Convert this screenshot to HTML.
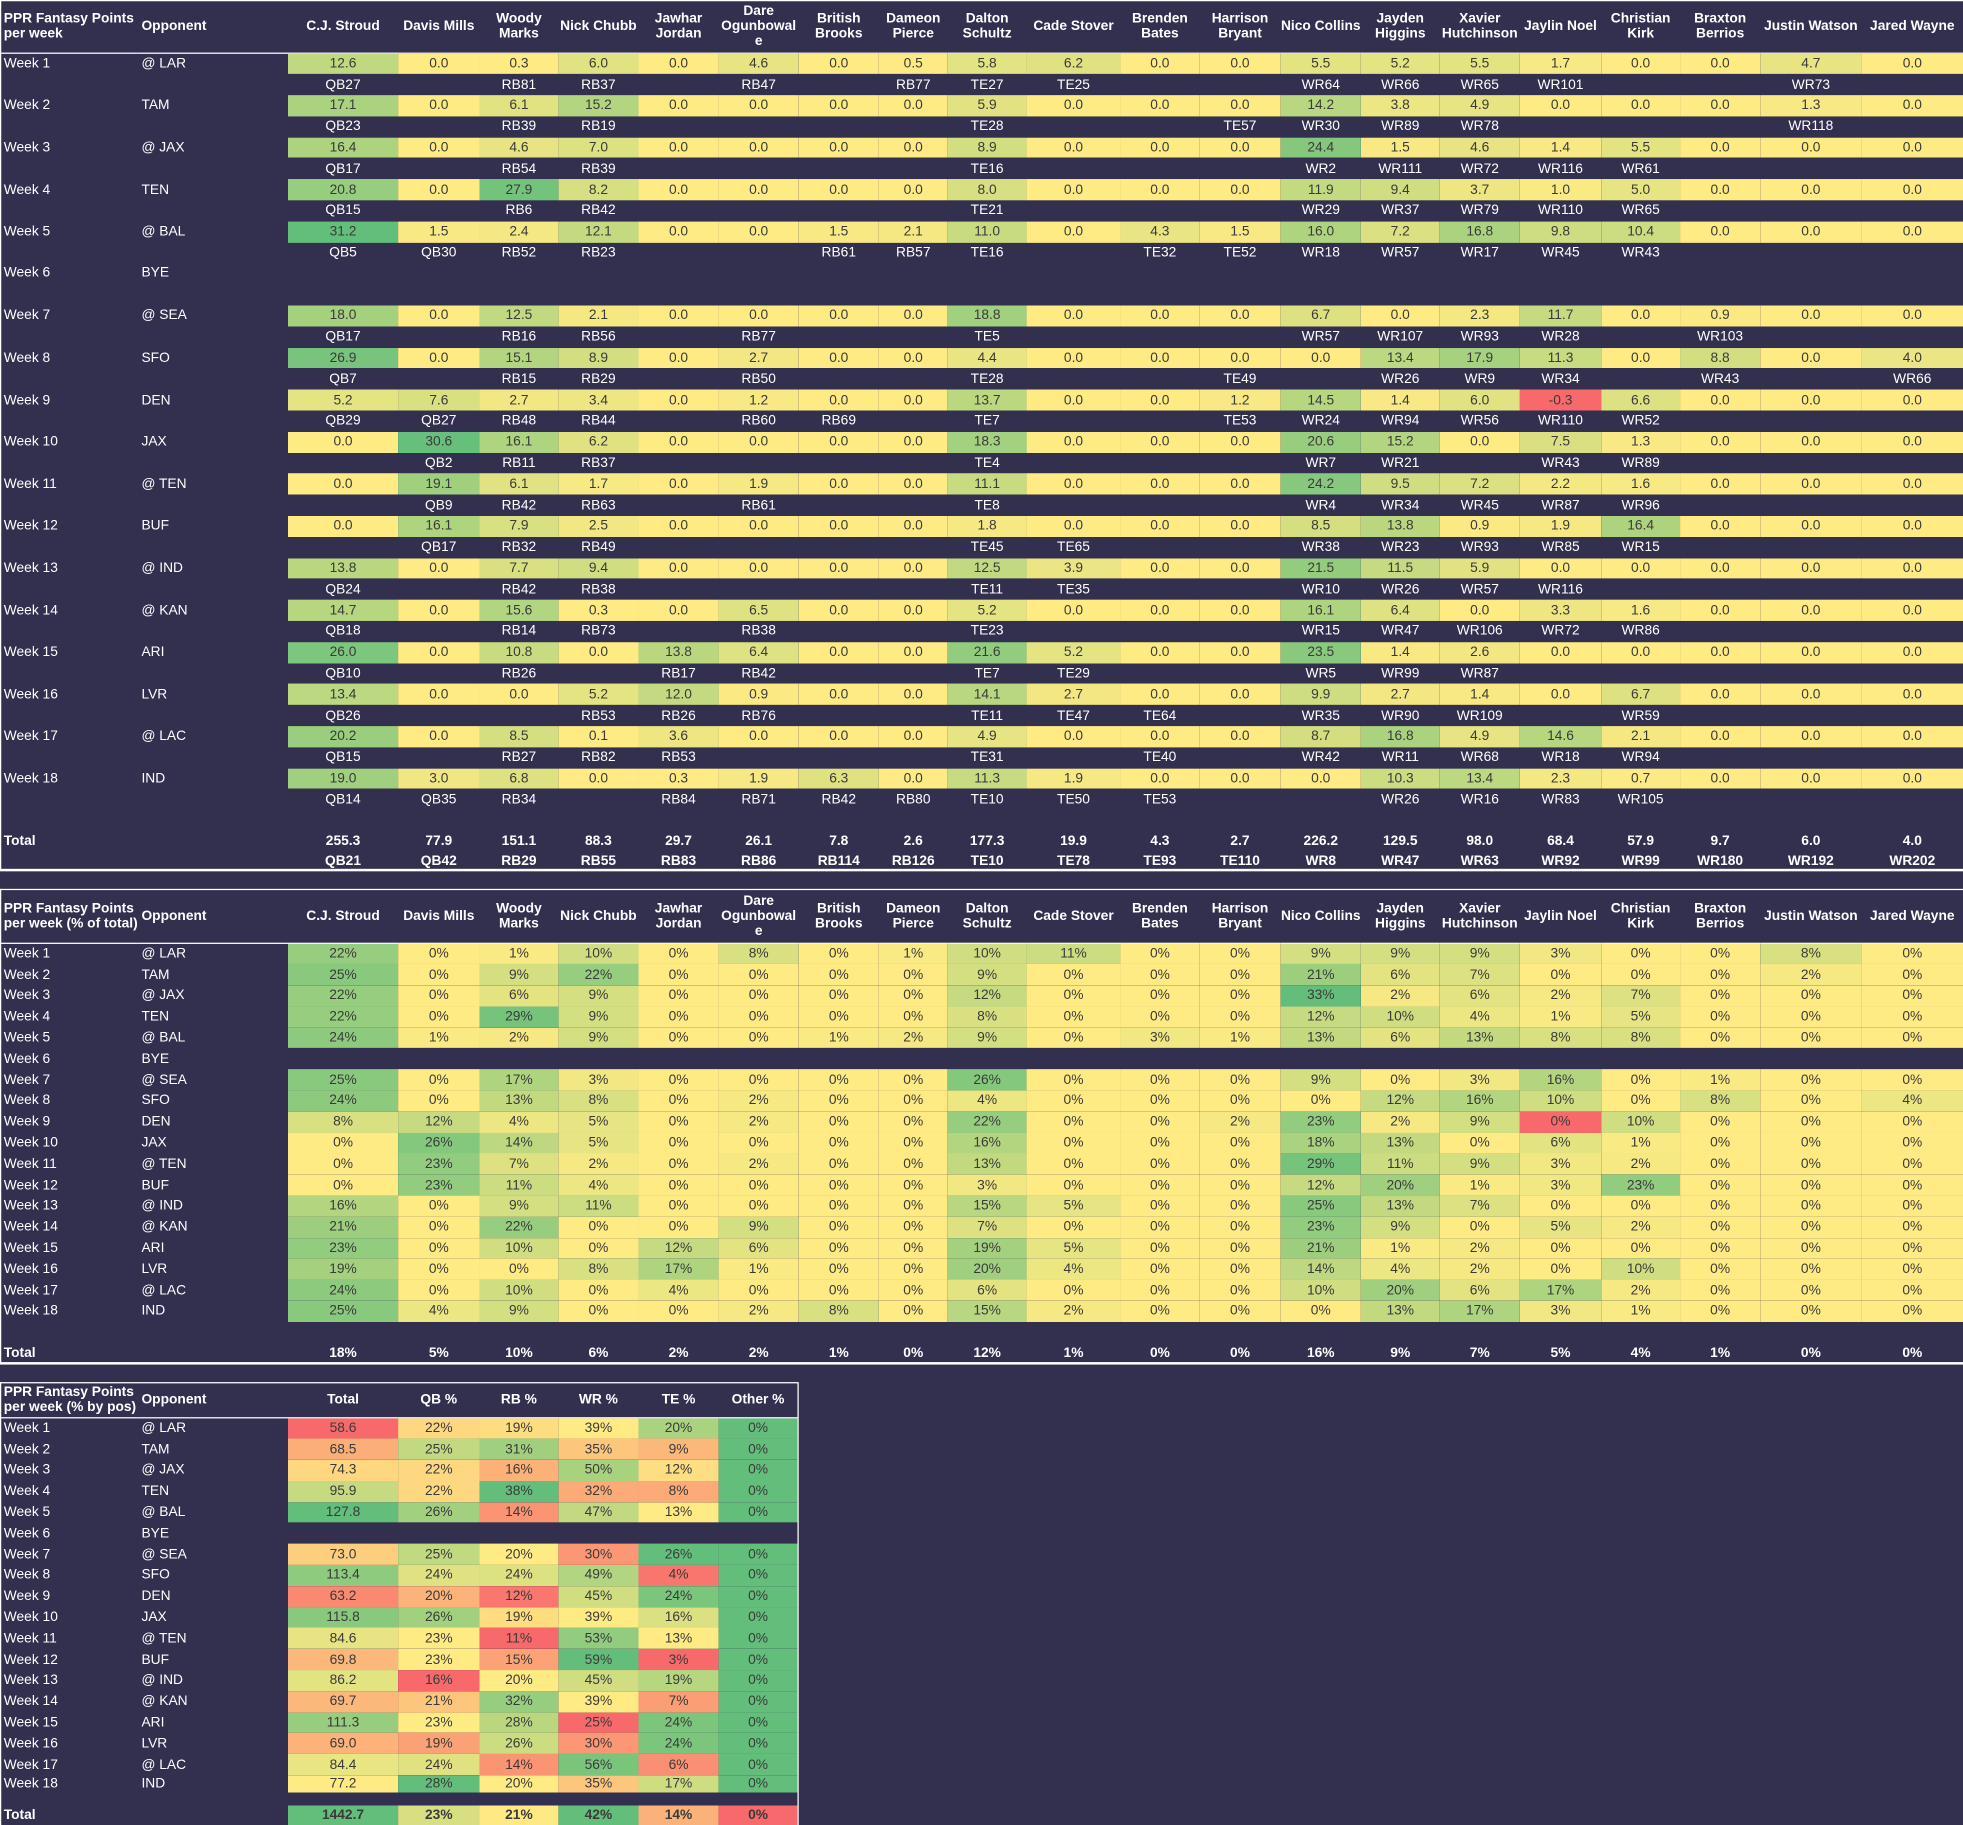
<!DOCTYPE html>
<html><head><meta charset="utf-8">
<style>
html,body{margin:0;padding:0;background:#33304f;width:1963px;height:1825px;overflow:hidden}
#w{position:absolute;left:0;top:0;width:1568px;height:1458px;transform:scale(1.25191);transform-origin:0 0;font-family:"Liberation Sans",Arial,sans-serif;font-size:11px;color:#fff}
table{position:absolute;left:0;border-collapse:collapse;table-layout:fixed}
td{padding:0;text-align:center;white-space:nowrap;overflow:hidden}
td:nth-child(1),td:nth-child(2){text-align:left;padding-left:3px}
tr.h td{font-weight:bold;line-height:12px;border-bottom:1.5px solid #fff;white-space:normal;overflow:visible;vertical-align:middle}
#t1 tr.v td,#t1 tr.r td{height:16.8px}
#t1 tr.v td{color:#3a3a3a}
#t1 tr.v td:nth-child(1),#t1 tr.v td:nth-child(2){color:#fff}
#t2 tr.v td{height:16.8px;color:#3a3a3a}
#t2 tr.v td:nth-child(1),#t2 tr.v td:nth-child(2){color:#fff}
#t3 tr.v td{height:16.8px;color:#3a3a3a}
#t3 tr.v td:nth-child(1),#t3 tr.v td:nth-child(2){color:#fff}
tr.t td{font-weight:bold;color:#fff}
.gap td{height:17px}
</style></head><body><div id="w">
<div style="position:absolute;left:0;top:0;width:1px;height:695px;background:#fff"></div>
<div style="position:absolute;left:0;top:0;width:1568px;height:1px;background:#fff"></div>
<div style="position:absolute;left:0;top:694px;width:1568px;height:1.5px;background:#fff"></div>
<div style="position:absolute;left:0;top:710px;width:1568px;height:1px;background:#fff"></div>
<div style="position:absolute;left:0;top:710px;width:1px;height:379px;background:#fff"></div>
<div style="position:absolute;left:0;top:1088px;width:1568px;height:1.5px;background:#fff"></div>
<div style="position:absolute;left:0;top:1104px;width:637px;height:1px;background:#fff"></div>
<div style="position:absolute;left:0;top:1104px;width:1px;height:354px;background:#fff"></div>
<div style="position:absolute;left:637px;top:1104px;width:1px;height:354px;background:#fff"></div>

<table id="t1" style="top:1px;width:1568px">
<colgroup><col style="width:110px"><col style="width:120px"><col style="width:88px"><col style="width:65px"><col style="width:63px"><col style="width:64px"><col style="width:64px"><col style="width:64px"><col style="width:64px"><col style="width:55px"><col style="width:63px"><col style="width:75px"><col style="width:63px"><col style="width:65px"><col style="width:64px"><col style="width:63px"><col style="width:64px"><col style="width:65px"><col style="width:63px"><col style="width:64px"><col style="width:81px"><col style="width:81px"></colgroup>
<tr class="h" style="height:41px"><td>PPR Fantasy Points per week</td><td>Opponent</td><td>C.J. Stroud</td><td>Davis Mills</td><td>Woody<br>Marks</td><td>Nick Chubb</td><td>Jawhar<br>Jordan</td><td>Dare<br>Ogunbowal<br>e</td><td>British<br>Brooks</td><td>Dameon<br>Pierce</td><td>Dalton<br>Schultz</td><td>Cade Stover</td><td>Brenden<br>Bates</td><td>Harrison<br>Bryant</td><td>Nico Collins</td><td>Jayden<br>Higgins</td><td>Xavier<br>Hutchinson</td><td>Jaylin Noel</td><td>Christian<br>Kirk</td><td>Braxton<br>Berrios</td><td>Justin Watson</td><td>Jared Wayne</td></tr>
<tr class="v"><td>Week 1</td><td>@ LAR</td><td>12.6</td><td>0.0</td><td>0.3</td><td>6.0</td><td>0.0</td><td>4.6</td><td>0.0</td><td>0.5</td><td>5.8</td><td>6.2</td><td>0.0</td><td>0.0</td><td>5.5</td><td>5.2</td><td>5.5</td><td>1.7</td><td>0.0</td><td>0.0</td><td>4.7</td><td>0.0</td></tr>
<tr class="r"><td></td><td></td><td>QB27</td><td></td><td>RB81</td><td>RB37</td><td></td><td>RB47</td><td></td><td>RB77</td><td>TE27</td><td>TE25</td><td></td><td></td><td>WR64</td><td>WR66</td><td>WR65</td><td>WR101</td><td></td><td></td><td>WR73</td><td></td></tr>
<tr class="v"><td>Week 2</td><td>TAM</td><td>17.1</td><td>0.0</td><td>6.1</td><td>15.2</td><td>0.0</td><td>0.0</td><td>0.0</td><td>0.0</td><td>5.9</td><td>0.0</td><td>0.0</td><td>0.0</td><td>14.2</td><td>3.8</td><td>4.9</td><td>0.0</td><td>0.0</td><td>0.0</td><td>1.3</td><td>0.0</td></tr>
<tr class="r"><td></td><td></td><td>QB23</td><td></td><td>RB39</td><td>RB19</td><td></td><td></td><td></td><td></td><td>TE28</td><td></td><td></td><td>TE57</td><td>WR30</td><td>WR89</td><td>WR78</td><td></td><td></td><td></td><td>WR118</td><td></td></tr>
<tr class="v"><td>Week 3</td><td>@ JAX</td><td>16.4</td><td>0.0</td><td>4.6</td><td>7.0</td><td>0.0</td><td>0.0</td><td>0.0</td><td>0.0</td><td>8.9</td><td>0.0</td><td>0.0</td><td>0.0</td><td>24.4</td><td>1.5</td><td>4.6</td><td>1.4</td><td>5.5</td><td>0.0</td><td>0.0</td><td>0.0</td></tr>
<tr class="r"><td></td><td></td><td>QB17</td><td></td><td>RB54</td><td>RB39</td><td></td><td></td><td></td><td></td><td>TE16</td><td></td><td></td><td></td><td>WR2</td><td>WR111</td><td>WR72</td><td>WR116</td><td>WR61</td><td></td><td></td><td></td></tr>
<tr class="v"><td>Week 4</td><td>TEN</td><td>20.8</td><td>0.0</td><td>27.9</td><td>8.2</td><td>0.0</td><td>0.0</td><td>0.0</td><td>0.0</td><td>8.0</td><td>0.0</td><td>0.0</td><td>0.0</td><td>11.9</td><td>9.4</td><td>3.7</td><td>1.0</td><td>5.0</td><td>0.0</td><td>0.0</td><td>0.0</td></tr>
<tr class="r"><td></td><td></td><td>QB15</td><td></td><td>RB6</td><td>RB42</td><td></td><td></td><td></td><td></td><td>TE21</td><td></td><td></td><td></td><td>WR29</td><td>WR37</td><td>WR79</td><td>WR110</td><td>WR65</td><td></td><td></td><td></td></tr>
<tr class="v"><td>Week 5</td><td>@ BAL</td><td>31.2</td><td>1.5</td><td>2.4</td><td>12.1</td><td>0.0</td><td>0.0</td><td>1.5</td><td>2.1</td><td>11.0</td><td>0.0</td><td>4.3</td><td>1.5</td><td>16.0</td><td>7.2</td><td>16.8</td><td>9.8</td><td>10.4</td><td>0.0</td><td>0.0</td><td>0.0</td></tr>
<tr class="r"><td></td><td></td><td>QB5</td><td>QB30</td><td>RB52</td><td>RB23</td><td></td><td></td><td>RB61</td><td>RB57</td><td>TE16</td><td></td><td>TE32</td><td>TE52</td><td>WR18</td><td>WR57</td><td>WR17</td><td>WR45</td><td>WR43</td><td></td><td></td><td></td></tr>
<tr class="b" style="height:33.6px"><td style="vertical-align:top;padding-top:2px">Week 6</td><td style="vertical-align:top;padding-top:2px">BYE</td><td></td><td></td><td></td><td></td><td></td><td></td><td></td><td></td><td></td><td></td><td></td><td></td><td></td><td></td><td></td><td></td><td></td><td></td><td></td><td></td></tr>
<tr class="v"><td>Week 7</td><td>@ SEA</td><td>18.0</td><td>0.0</td><td>12.5</td><td>2.1</td><td>0.0</td><td>0.0</td><td>0.0</td><td>0.0</td><td>18.8</td><td>0.0</td><td>0.0</td><td>0.0</td><td>6.7</td><td>0.0</td><td>2.3</td><td>11.7</td><td>0.0</td><td>0.9</td><td>0.0</td><td>0.0</td></tr>
<tr class="r"><td></td><td></td><td>QB17</td><td></td><td>RB16</td><td>RB56</td><td></td><td>RB77</td><td></td><td></td><td>TE5</td><td></td><td></td><td></td><td>WR57</td><td>WR107</td><td>WR93</td><td>WR28</td><td></td><td>WR103</td><td></td><td></td></tr>
<tr class="v"><td>Week 8</td><td>SFO</td><td>26.9</td><td>0.0</td><td>15.1</td><td>8.9</td><td>0.0</td><td>2.7</td><td>0.0</td><td>0.0</td><td>4.4</td><td>0.0</td><td>0.0</td><td>0.0</td><td>0.0</td><td>13.4</td><td>17.9</td><td>11.3</td><td>0.0</td><td>8.8</td><td>0.0</td><td>4.0</td></tr>
<tr class="r"><td></td><td></td><td>QB7</td><td></td><td>RB15</td><td>RB29</td><td></td><td>RB50</td><td></td><td></td><td>TE28</td><td></td><td></td><td>TE49</td><td></td><td>WR26</td><td>WR9</td><td>WR34</td><td></td><td>WR43</td><td></td><td>WR66</td></tr>
<tr class="v"><td>Week 9</td><td>DEN</td><td>5.2</td><td>7.6</td><td>2.7</td><td>3.4</td><td>0.0</td><td>1.2</td><td>0.0</td><td>0.0</td><td>13.7</td><td>0.0</td><td>0.0</td><td>1.2</td><td>14.5</td><td>1.4</td><td>6.0</td><td>-0.3</td><td>6.6</td><td>0.0</td><td>0.0</td><td>0.0</td></tr>
<tr class="r"><td></td><td></td><td>QB29</td><td>QB27</td><td>RB48</td><td>RB44</td><td></td><td>RB60</td><td>RB69</td><td></td><td>TE7</td><td></td><td></td><td>TE53</td><td>WR24</td><td>WR94</td><td>WR56</td><td>WR110</td><td>WR52</td><td></td><td></td><td></td></tr>
<tr class="v"><td>Week 10</td><td>JAX</td><td>0.0</td><td>30.6</td><td>16.1</td><td>6.2</td><td>0.0</td><td>0.0</td><td>0.0</td><td>0.0</td><td>18.3</td><td>0.0</td><td>0.0</td><td>0.0</td><td>20.6</td><td>15.2</td><td>0.0</td><td>7.5</td><td>1.3</td><td>0.0</td><td>0.0</td><td>0.0</td></tr>
<tr class="r"><td></td><td></td><td></td><td>QB2</td><td>RB11</td><td>RB37</td><td></td><td></td><td></td><td></td><td>TE4</td><td></td><td></td><td></td><td>WR7</td><td>WR21</td><td></td><td>WR43</td><td>WR89</td><td></td><td></td><td></td></tr>
<tr class="v"><td>Week 11</td><td>@ TEN</td><td>0.0</td><td>19.1</td><td>6.1</td><td>1.7</td><td>0.0</td><td>1.9</td><td>0.0</td><td>0.0</td><td>11.1</td><td>0.0</td><td>0.0</td><td>0.0</td><td>24.2</td><td>9.5</td><td>7.2</td><td>2.2</td><td>1.6</td><td>0.0</td><td>0.0</td><td>0.0</td></tr>
<tr class="r"><td></td><td></td><td></td><td>QB9</td><td>RB42</td><td>RB63</td><td></td><td>RB61</td><td></td><td></td><td>TE8</td><td></td><td></td><td></td><td>WR4</td><td>WR34</td><td>WR45</td><td>WR87</td><td>WR96</td><td></td><td></td><td></td></tr>
<tr class="v"><td>Week 12</td><td>BUF</td><td>0.0</td><td>16.1</td><td>7.9</td><td>2.5</td><td>0.0</td><td>0.0</td><td>0.0</td><td>0.0</td><td>1.8</td><td>0.0</td><td>0.0</td><td>0.0</td><td>8.5</td><td>13.8</td><td>0.9</td><td>1.9</td><td>16.4</td><td>0.0</td><td>0.0</td><td>0.0</td></tr>
<tr class="r"><td></td><td></td><td></td><td>QB17</td><td>RB32</td><td>RB49</td><td></td><td></td><td></td><td></td><td>TE45</td><td>TE65</td><td></td><td></td><td>WR38</td><td>WR23</td><td>WR93</td><td>WR85</td><td>WR15</td><td></td><td></td><td></td></tr>
<tr class="v"><td>Week 13</td><td>@ IND</td><td>13.8</td><td>0.0</td><td>7.7</td><td>9.4</td><td>0.0</td><td>0.0</td><td>0.0</td><td>0.0</td><td>12.5</td><td>3.9</td><td>0.0</td><td>0.0</td><td>21.5</td><td>11.5</td><td>5.9</td><td>0.0</td><td>0.0</td><td>0.0</td><td>0.0</td><td>0.0</td></tr>
<tr class="r"><td></td><td></td><td>QB24</td><td></td><td>RB42</td><td>RB38</td><td></td><td></td><td></td><td></td><td>TE11</td><td>TE35</td><td></td><td></td><td>WR10</td><td>WR26</td><td>WR57</td><td>WR116</td><td></td><td></td><td></td><td></td></tr>
<tr class="v"><td>Week 14</td><td>@ KAN</td><td>14.7</td><td>0.0</td><td>15.6</td><td>0.3</td><td>0.0</td><td>6.5</td><td>0.0</td><td>0.0</td><td>5.2</td><td>0.0</td><td>0.0</td><td>0.0</td><td>16.1</td><td>6.4</td><td>0.0</td><td>3.3</td><td>1.6</td><td>0.0</td><td>0.0</td><td>0.0</td></tr>
<tr class="r"><td></td><td></td><td>QB18</td><td></td><td>RB14</td><td>RB73</td><td></td><td>RB38</td><td></td><td></td><td>TE23</td><td></td><td></td><td></td><td>WR15</td><td>WR47</td><td>WR106</td><td>WR72</td><td>WR86</td><td></td><td></td><td></td></tr>
<tr class="v"><td>Week 15</td><td>ARI</td><td>26.0</td><td>0.0</td><td>10.8</td><td>0.0</td><td>13.8</td><td>6.4</td><td>0.0</td><td>0.0</td><td>21.6</td><td>5.2</td><td>0.0</td><td>0.0</td><td>23.5</td><td>1.4</td><td>2.6</td><td>0.0</td><td>0.0</td><td>0.0</td><td>0.0</td><td>0.0</td></tr>
<tr class="r"><td></td><td></td><td>QB10</td><td></td><td>RB26</td><td></td><td>RB17</td><td>RB42</td><td></td><td></td><td>TE7</td><td>TE29</td><td></td><td></td><td>WR5</td><td>WR99</td><td>WR87</td><td></td><td></td><td></td><td></td><td></td></tr>
<tr class="v"><td>Week 16</td><td>LVR</td><td>13.4</td><td>0.0</td><td>0.0</td><td>5.2</td><td>12.0</td><td>0.9</td><td>0.0</td><td>0.0</td><td>14.1</td><td>2.7</td><td>0.0</td><td>0.0</td><td>9.9</td><td>2.7</td><td>1.4</td><td>0.0</td><td>6.7</td><td>0.0</td><td>0.0</td><td>0.0</td></tr>
<tr class="r"><td></td><td></td><td>QB26</td><td></td><td></td><td>RB53</td><td>RB26</td><td>RB76</td><td></td><td></td><td>TE11</td><td>TE47</td><td>TE64</td><td></td><td>WR35</td><td>WR90</td><td>WR109</td><td></td><td>WR59</td><td></td><td></td><td></td></tr>
<tr class="v"><td>Week 17</td><td>@ LAC</td><td>20.2</td><td>0.0</td><td>8.5</td><td>0.1</td><td>3.6</td><td>0.0</td><td>0.0</td><td>0.0</td><td>4.9</td><td>0.0</td><td>0.0</td><td>0.0</td><td>8.7</td><td>16.8</td><td>4.9</td><td>14.6</td><td>2.1</td><td>0.0</td><td>0.0</td><td>0.0</td></tr>
<tr class="r"><td></td><td></td><td>QB15</td><td></td><td>RB27</td><td>RB82</td><td>RB53</td><td></td><td></td><td></td><td>TE31</td><td></td><td>TE40</td><td></td><td>WR42</td><td>WR11</td><td>WR68</td><td>WR18</td><td>WR94</td><td></td><td></td><td></td></tr>
<tr class="v"><td>Week 18</td><td>IND</td><td>19.0</td><td>3.0</td><td>6.8</td><td>0.0</td><td>0.3</td><td>1.9</td><td>6.3</td><td>0.0</td><td>11.3</td><td>1.9</td><td>0.0</td><td>0.0</td><td>0.0</td><td>10.3</td><td>13.4</td><td>2.3</td><td>0.7</td><td>0.0</td><td>0.0</td><td>0.0</td></tr>
<tr class="r"><td></td><td></td><td>QB14</td><td>QB35</td><td>RB34</td><td></td><td>RB84</td><td>RB71</td><td>RB42</td><td>RB80</td><td>TE10</td><td>TE50</td><td>TE53</td><td></td><td></td><td>WR26</td><td>WR16</td><td>WR83</td><td>WR105</td><td></td><td></td><td></td></tr>
<tr class="gap"><td colspan="22"></td></tr>
<tr class="t" style="height:16px"><td>Total</td><td></td><td>255.3</td><td>77.9</td><td>151.1</td><td>88.3</td><td>29.7</td><td>26.1</td><td>7.8</td><td>2.6</td><td>177.3</td><td>19.9</td><td>4.3</td><td>2.7</td><td>226.2</td><td>129.5</td><td>98.0</td><td>68.4</td><td>57.9</td><td>9.7</td><td>6.0</td><td>4.0</td></tr>
<tr class="t" style="height:15px"><td></td><td></td><td>QB21</td><td>QB42</td><td>RB29</td><td>RB55</td><td>RB83</td><td>RB86</td><td>RB114</td><td>RB126</td><td>TE10</td><td>TE78</td><td>TE93</td><td>TE110</td><td>WR8</td><td>WR47</td><td>WR63</td><td>WR92</td><td>WR99</td><td>WR180</td><td>WR192</td><td>WR202</td></tr>
</table>

<table id="t2" style="top:712px;width:1568px">
<colgroup><col style="width:110px"><col style="width:120px"><col style="width:88px"><col style="width:65px"><col style="width:63px"><col style="width:64px"><col style="width:64px"><col style="width:64px"><col style="width:64px"><col style="width:55px"><col style="width:63px"><col style="width:75px"><col style="width:63px"><col style="width:65px"><col style="width:64px"><col style="width:63px"><col style="width:64px"><col style="width:65px"><col style="width:63px"><col style="width:64px"><col style="width:81px"><col style="width:81px"></colgroup>
<tr class="h" style="height:41px"><td>PPR Fantasy Points per week (% of total)</td><td>Opponent</td><td>C.J. Stroud</td><td>Davis Mills</td><td>Woody<br>Marks</td><td>Nick Chubb</td><td>Jawhar<br>Jordan</td><td>Dare<br>Ogunbowal<br>e</td><td>British<br>Brooks</td><td>Dameon<br>Pierce</td><td>Dalton<br>Schultz</td><td>Cade Stover</td><td>Brenden<br>Bates</td><td>Harrison<br>Bryant</td><td>Nico Collins</td><td>Jayden<br>Higgins</td><td>Xavier<br>Hutchinson</td><td>Jaylin Noel</td><td>Christian<br>Kirk</td><td>Braxton<br>Berrios</td><td>Justin Watson</td><td>Jared Wayne</td></tr>
<tr class="v"><td>Week 1</td><td>@ LAR</td><td>22%</td><td>0%</td><td>1%</td><td>10%</td><td>0%</td><td>8%</td><td>0%</td><td>1%</td><td>10%</td><td>11%</td><td>0%</td><td>0%</td><td>9%</td><td>9%</td><td>9%</td><td>3%</td><td>0%</td><td>0%</td><td>8%</td><td>0%</td></tr>
<tr class="v"><td>Week 2</td><td>TAM</td><td>25%</td><td>0%</td><td>9%</td><td>22%</td><td>0%</td><td>0%</td><td>0%</td><td>0%</td><td>9%</td><td>0%</td><td>0%</td><td>0%</td><td>21%</td><td>6%</td><td>7%</td><td>0%</td><td>0%</td><td>0%</td><td>2%</td><td>0%</td></tr>
<tr class="v"><td>Week 3</td><td>@ JAX</td><td>22%</td><td>0%</td><td>6%</td><td>9%</td><td>0%</td><td>0%</td><td>0%</td><td>0%</td><td>12%</td><td>0%</td><td>0%</td><td>0%</td><td>33%</td><td>2%</td><td>6%</td><td>2%</td><td>7%</td><td>0%</td><td>0%</td><td>0%</td></tr>
<tr class="v"><td>Week 4</td><td>TEN</td><td>22%</td><td>0%</td><td>29%</td><td>9%</td><td>0%</td><td>0%</td><td>0%</td><td>0%</td><td>8%</td><td>0%</td><td>0%</td><td>0%</td><td>12%</td><td>10%</td><td>4%</td><td>1%</td><td>5%</td><td>0%</td><td>0%</td><td>0%</td></tr>
<tr class="v"><td>Week 5</td><td>@ BAL</td><td>24%</td><td>1%</td><td>2%</td><td>9%</td><td>0%</td><td>0%</td><td>1%</td><td>2%</td><td>9%</td><td>0%</td><td>3%</td><td>1%</td><td>13%</td><td>6%</td><td>13%</td><td>8%</td><td>8%</td><td>0%</td><td>0%</td><td>0%</td></tr>
<tr class="b" style="height:16.8px"><td>Week 6</td><td>BYE</td><td colspan="20"></td></tr>
<tr class="v"><td>Week 7</td><td>@ SEA</td><td>25%</td><td>0%</td><td>17%</td><td>3%</td><td>0%</td><td>0%</td><td>0%</td><td>0%</td><td>26%</td><td>0%</td><td>0%</td><td>0%</td><td>9%</td><td>0%</td><td>3%</td><td>16%</td><td>0%</td><td>1%</td><td>0%</td><td>0%</td></tr>
<tr class="v"><td>Week 8</td><td>SFO</td><td>24%</td><td>0%</td><td>13%</td><td>8%</td><td>0%</td><td>2%</td><td>0%</td><td>0%</td><td>4%</td><td>0%</td><td>0%</td><td>0%</td><td>0%</td><td>12%</td><td>16%</td><td>10%</td><td>0%</td><td>8%</td><td>0%</td><td>4%</td></tr>
<tr class="v"><td>Week 9</td><td>DEN</td><td>8%</td><td>12%</td><td>4%</td><td>5%</td><td>0%</td><td>2%</td><td>0%</td><td>0%</td><td>22%</td><td>0%</td><td>0%</td><td>2%</td><td>23%</td><td>2%</td><td>9%</td><td class="neg">0%</td><td>10%</td><td>0%</td><td>0%</td><td>0%</td></tr>
<tr class="v"><td>Week 10</td><td>JAX</td><td>0%</td><td>26%</td><td>14%</td><td>5%</td><td>0%</td><td>0%</td><td>0%</td><td>0%</td><td>16%</td><td>0%</td><td>0%</td><td>0%</td><td>18%</td><td>13%</td><td>0%</td><td>6%</td><td>1%</td><td>0%</td><td>0%</td><td>0%</td></tr>
<tr class="v"><td>Week 11</td><td>@ TEN</td><td>0%</td><td>23%</td><td>7%</td><td>2%</td><td>0%</td><td>2%</td><td>0%</td><td>0%</td><td>13%</td><td>0%</td><td>0%</td><td>0%</td><td>29%</td><td>11%</td><td>9%</td><td>3%</td><td>2%</td><td>0%</td><td>0%</td><td>0%</td></tr>
<tr class="v"><td>Week 12</td><td>BUF</td><td>0%</td><td>23%</td><td>11%</td><td>4%</td><td>0%</td><td>0%</td><td>0%</td><td>0%</td><td>3%</td><td>0%</td><td>0%</td><td>0%</td><td>12%</td><td>20%</td><td>1%</td><td>3%</td><td>23%</td><td>0%</td><td>0%</td><td>0%</td></tr>
<tr class="v"><td>Week 13</td><td>@ IND</td><td>16%</td><td>0%</td><td>9%</td><td>11%</td><td>0%</td><td>0%</td><td>0%</td><td>0%</td><td>15%</td><td>5%</td><td>0%</td><td>0%</td><td>25%</td><td>13%</td><td>7%</td><td>0%</td><td>0%</td><td>0%</td><td>0%</td><td>0%</td></tr>
<tr class="v"><td>Week 14</td><td>@ KAN</td><td>21%</td><td>0%</td><td>22%</td><td>0%</td><td>0%</td><td>9%</td><td>0%</td><td>0%</td><td>7%</td><td>0%</td><td>0%</td><td>0%</td><td>23%</td><td>9%</td><td>0%</td><td>5%</td><td>2%</td><td>0%</td><td>0%</td><td>0%</td></tr>
<tr class="v"><td>Week 15</td><td>ARI</td><td>23%</td><td>0%</td><td>10%</td><td>0%</td><td>12%</td><td>6%</td><td>0%</td><td>0%</td><td>19%</td><td>5%</td><td>0%</td><td>0%</td><td>21%</td><td>1%</td><td>2%</td><td>0%</td><td>0%</td><td>0%</td><td>0%</td><td>0%</td></tr>
<tr class="v"><td>Week 16</td><td>LVR</td><td>19%</td><td>0%</td><td>0%</td><td>8%</td><td>17%</td><td>1%</td><td>0%</td><td>0%</td><td>20%</td><td>4%</td><td>0%</td><td>0%</td><td>14%</td><td>4%</td><td>2%</td><td>0%</td><td>10%</td><td>0%</td><td>0%</td><td>0%</td></tr>
<tr class="v"><td>Week 17</td><td>@ LAC</td><td>24%</td><td>0%</td><td>10%</td><td>0%</td><td>4%</td><td>0%</td><td>0%</td><td>0%</td><td>6%</td><td>0%</td><td>0%</td><td>0%</td><td>10%</td><td>20%</td><td>6%</td><td>17%</td><td>2%</td><td>0%</td><td>0%</td><td>0%</td></tr>
<tr class="v"><td>Week 18</td><td>IND</td><td>25%</td><td>4%</td><td>9%</td><td>0%</td><td>0%</td><td>2%</td><td>8%</td><td>0%</td><td>15%</td><td>2%</td><td>0%</td><td>0%</td><td>0%</td><td>13%</td><td>17%</td><td>3%</td><td>1%</td><td>0%</td><td>0%</td><td>0%</td></tr>
<tr class="gap"><td colspan="22"></td></tr>
<tr class="t" style="height:16px"><td>Total</td><td></td><td>18%</td><td>5%</td><td>10%</td><td>6%</td><td>2%</td><td>2%</td><td>1%</td><td>0%</td><td>12%</td><td>1%</td><td>0%</td><td>0%</td><td>16%</td><td>9%</td><td>7%</td><td>5%</td><td>4%</td><td>1%</td><td>0%</td><td>0%</td></tr>
</table>

<table id="t3" style="top:1105px;width:637px">
<colgroup><col style="width:110px"><col style="width:120px"><col style="width:88px"><col style="width:65px"><col style="width:63px"><col style="width:64px"><col style="width:64px"><col style="width:63px"></colgroup>
<tr class="h" style="height:27px"><td>PPR Fantasy Points per week (% by pos)</td><td>Opponent</td><td>Total</td><td>QB %</td><td>RB %</td><td>WR %</td><td>TE %</td><td>Other %</td></tr>
<tr class="v"><td>Week 1</td><td>@ LAR</td><td>58.6</td><td>22%</td><td>19%</td><td>39%</td><td>20%</td><td>0%</td></tr>
<tr class="v"><td>Week 2</td><td>TAM</td><td>68.5</td><td>25%</td><td>31%</td><td>35%</td><td>9%</td><td>0%</td></tr>
<tr class="v"><td>Week 3</td><td>@ JAX</td><td>74.3</td><td>22%</td><td>16%</td><td>50%</td><td>12%</td><td>0%</td></tr>
<tr class="v"><td>Week 4</td><td>TEN</td><td>95.9</td><td>22%</td><td>38%</td><td>32%</td><td>8%</td><td>0%</td></tr>
<tr class="v"><td>Week 5</td><td>@ BAL</td><td>127.8</td><td>26%</td><td>14%</td><td>47%</td><td>13%</td><td>0%</td></tr>
<tr class="b" style="height:16.8px"><td>Week 6</td><td>BYE</td><td></td><td></td><td></td><td></td><td></td><td></td></tr>
<tr class="v"><td>Week 7</td><td>@ SEA</td><td>73.0</td><td>25%</td><td>20%</td><td>30%</td><td>26%</td><td>0%</td></tr>
<tr class="v"><td>Week 8</td><td>SFO</td><td>113.4</td><td>24%</td><td>24%</td><td>49%</td><td>4%</td><td>0%</td></tr>
<tr class="v"><td>Week 9</td><td>DEN</td><td>63.2</td><td>20%</td><td>12%</td><td>45%</td><td>24%</td><td>0%</td></tr>
<tr class="v"><td>Week 10</td><td>JAX</td><td>115.8</td><td>26%</td><td>19%</td><td>39%</td><td>16%</td><td>0%</td></tr>
<tr class="v"><td>Week 11</td><td>@ TEN</td><td>84.6</td><td>23%</td><td>11%</td><td>53%</td><td>13%</td><td>0%</td></tr>
<tr class="v"><td>Week 12</td><td>BUF</td><td>69.8</td><td>23%</td><td>15%</td><td>59%</td><td>3%</td><td>0%</td></tr>
<tr class="v"><td>Week 13</td><td>@ IND</td><td>86.2</td><td>16%</td><td>20%</td><td>45%</td><td>19%</td><td>0%</td></tr>
<tr class="v"><td>Week 14</td><td>@ KAN</td><td>69.7</td><td>21%</td><td>32%</td><td>39%</td><td>7%</td><td>0%</td></tr>
<tr class="v"><td>Week 15</td><td>ARI</td><td>111.3</td><td>23%</td><td>28%</td><td>25%</td><td>24%</td><td>0%</td></tr>
<tr class="v"><td>Week 16</td><td>LVR</td><td>69.0</td><td>19%</td><td>26%</td><td>30%</td><td>24%</td><td>0%</td></tr>
<tr class="v"><td>Week 17</td><td>@ LAC</td><td>84.4</td><td>24%</td><td>14%</td><td>56%</td><td>6%</td><td>0%</td></tr>
<tr class="v w18"><td style="height:14px">Week 18</td><td style="height:14px">IND</td><td style="height:14px">77.2</td><td style="height:14px">28%</td><td style="height:14px">20%</td><td style="height:14px">35%</td><td style="height:14px">17%</td><td style="height:14px">0%</td></tr>
<tr class="gap"><td colspan="8" style="height:10px"></td></tr>
<tr class="t" style="height:16px"><td>Total</td><td></td><td style="background:#63be7b;color:#3a3a3a">1442.7</td><td style="background:#d7df82;color:#3a3a3a">23%</td><td style="background:#ffe984;color:#3a3a3a">21%</td><td style="background:#63be7b;color:#3a3a3a">42%</td><td style="background:#fbb27a;color:#3a3a3a">14%</td><td style="background:#f8696b;color:#3a3a3a">0%</td></tr>
</table>
</div>
<script>
var Y=[255,235,132],G=[99,190,123],R=[248,105,107];
function mix(a,b,t){t=Math.max(0,Math.min(1,t));return 'rgb('+a.map(function(v,i){return Math.round(v+(b[i]-v)*t)}).join(',')+')';}
function heat(id,max){
 var rows=document.querySelectorAll('#'+id+' tr.v');
 rows.forEach(function(r){var c=r.children;for(var i=2;i<c.length;i++){var v=parseFloat(c[i].textContent);
  if(v<0||c[i].className=='neg')c[i].style.background=mix(Y,R,1);else c[i].style.background=mix(Y,G,v/max);}});
}
heat('t1',31.2);heat('t2',33);
var rows=document.querySelectorAll('#t3 tr.v');
for(var col=2;col<8;col++){
 var vals=[];rows.forEach(function(r){vals.push(parseFloat(r.children[col].textContent))});
 var s=vals.slice().sort(function(a,b){return a-b}),mn=s[0],mx=s[s.length-1],md=s[8];
 rows.forEach(function(r){var c=r.children[col],v=parseFloat(c.textContent),bg;
  if(mx==mn)bg=mix(Y,G,1);else if(v<=md)bg=mix(R,Y,(v-mn)/(md-mn||1));else bg=mix(Y,G,(v-md)/(mx-md||1));
  c.style.background=bg;});
}
</script>
</body></html>
